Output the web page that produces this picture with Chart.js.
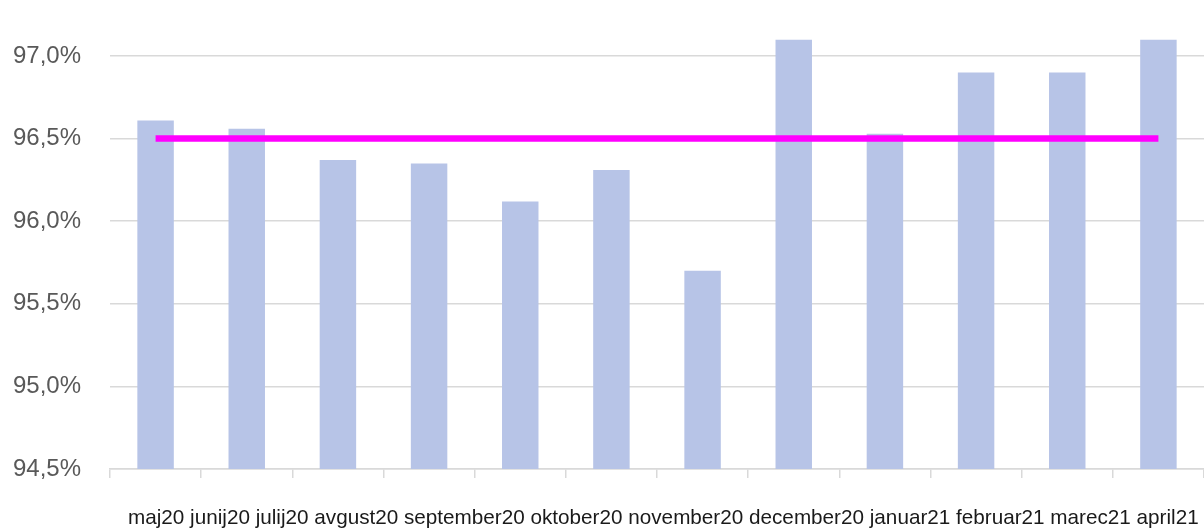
<!DOCTYPE html>
<html>
<head>
<meta charset="utf-8">
<script src="https://cdn.jsdelivr.net/npm/chart.js@4/dist/chart.umd.min.js"></script>
<style>
  html, body { margin: 0; padding: 0; background: #ffffff; }
  #wrap { width: 1204px; height: 530px; position: relative; }
</style>
</head>
<body>
<div id="wrap"><canvas id="c"></canvas></div>
<script>
const categories = ['maj20', 'junij20', 'julij20', 'avgust20', 'september20', 'oktober20',
  'november20', 'december20', 'januar21', 'februar21', 'marec21', 'april21'];
const shareValues = [96.61, 96.56, 96.37, 96.35, 96.12, 96.31, 95.70, 97.10, 96.53, 96.90, 96.90, 97.10];
const targetValues = [96.5, 96.5, 96.5, 96.5, 96.5, 96.5, 96.5, 96.5, 96.5, 96.5, 96.5, 96.5];
const yTickValues = [94.5, 95.0, 95.5, 96.0, 96.5, 97.0];

const bottomLabels = {
  id: 'bottomLabels',
  afterDraw(chart) {
    const ctx = chart.ctx;
    ctx.save();
    ctx.font = '20.7px "Liberation Sans", Arial, sans-serif';
    ctx.fillStyle = '#1a1a1a';
    ctx.textAlign = 'left';
    ctx.textBaseline = 'alphabetic';
    ctx.fillText(categories.join(' '), 128, 524);
    ctx.restore();
  }
};

new Chart(document.getElementById('c'), {
  data: {
    labels: categories,
    datasets: [
      {
        type: 'line',
        label: 'cilj',
        data: targetValues,
        borderColor: '#FF00FF',
        borderWidth: 6.5,
        pointRadius: 0,
        fill: false,
        order: 0
      },
      {
        type: 'bar',
        label: 'delež',
        data: shareValues,
        backgroundColor: '#B7C4E7',
        borderWidth: 0,
        barPercentage: 0.4,
        categoryPercentage: 1.0,
        order: 1
      }
    ]
  },
  plugins: [bottomLabels],
  options: {
    responsive: true,
    maintainAspectRatio: false,
    animation: false,
    layout: { padding: { top: 39.5, right: 0, bottom: 52, left: 0 } },
    plugins: { legend: { display: false }, tooltip: { enabled: false } },
    scales: {
      x: {
        offset: true,
        grid: {
          offset: true,
          drawOnChartArea: false,
          drawTicks: true,
          tickLength: 9,
          color: '#d9d9d9',
          lineWidth: 1.5
        },
        border: { display: true, color: '#d9d9d9', width: 1.5 },
        ticks: { display: false }
      },
      y: {
        min: 94.5,
        max: 97.1,
        afterFit(scale) {
          scale.width = 110;
          scale.paddingTop = 0;
          scale.paddingBottom = 0;
        },
        afterBuildTicks(scale) { scale.ticks = yTickValues.map(v => ({ value: v })); },
        grid: { color: '#d9d9d9', lineWidth: 1.5, drawTicks: false },
        border: { display: false },
        ticks: {
          padding: 29,
          color: '#595959',
          font: { family: '"Liberation Sans", Arial, sans-serif', size: 24 },
          callback: (v) => Number(v).toFixed(1).replace('.', ',') + '%'
        }
      }
    }
  }
});
</script>
</body>
</html>
